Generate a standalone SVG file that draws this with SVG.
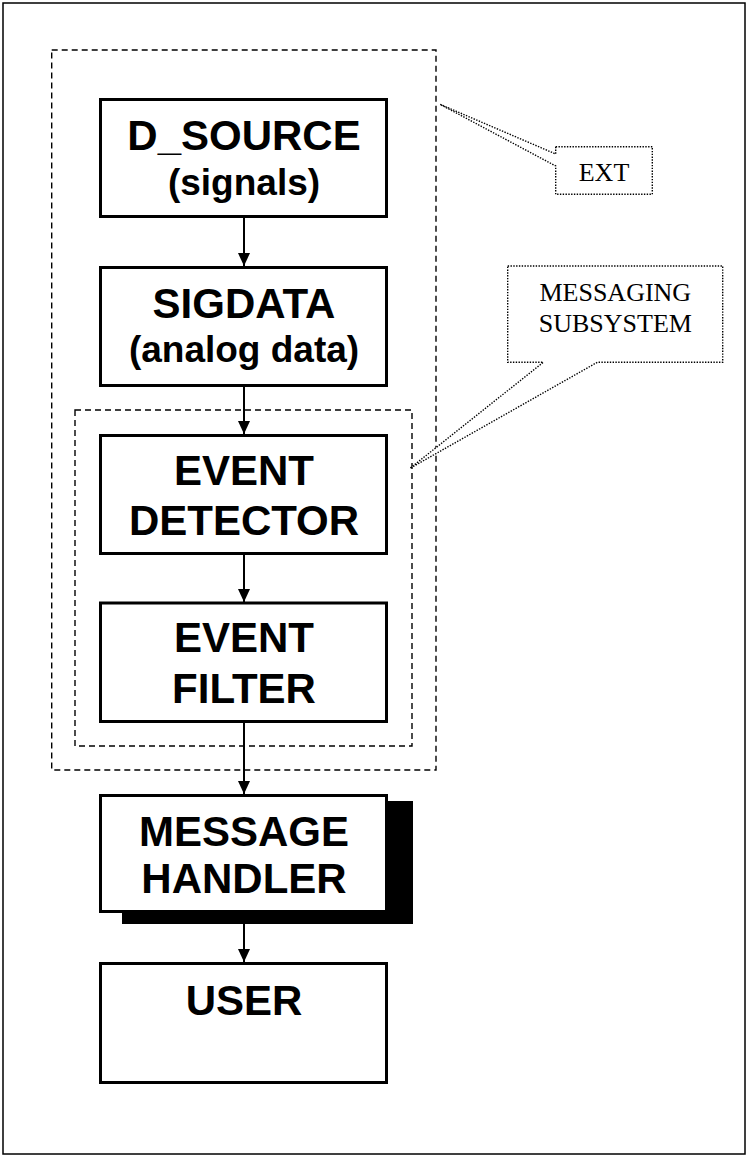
<svg xmlns="http://www.w3.org/2000/svg" width="748" height="1157" viewBox="0 0 748 1157">
  <style>
    .box { fill: #fff; stroke: #000; stroke-width: 3; }
    .title { font-family: "Liberation Sans", Arial, sans-serif; font-weight: bold; font-size: 42px; text-anchor: middle; fill: #000; }
    .sub { font-family: "Liberation Sans", Arial, sans-serif; font-weight: bold; font-size: 37px; text-anchor: middle; fill: #000; }
    .dash { fill: none; stroke: #000; stroke-width: 1.4; stroke-dasharray: 6 4; }
    .callout { fill: #fff; stroke: #000; stroke-width: 1.4; stroke-dasharray: 1.4 1.4; }
    .ctext { font-family: "Liberation Serif", "Times New Roman", serif; font-size: 26px; text-anchor: middle; fill: #000; }
    .conn { stroke: #000; stroke-width: 2; fill: none; }
  </style>
  <defs>
    <marker id="arrow" viewBox="0 0 13 12" refX="13" refY="6" markerWidth="13" markerHeight="12" markerUnits="userSpaceOnUse" orient="auto">
      <path d="M0,0 L13,6 L0,12 Z" fill="#000"/>
    </marker>
  </defs>
  <rect x="0" y="0" width="748" height="1157" fill="#fff"/>
  <rect x="3" y="3" width="742" height="1151" fill="none" stroke="#000" stroke-width="1.5"/>

  <g id="ext-group">
    <rect class="dash" x="51.7" y="50" width="384.3" height="720"/>
  </g>
  <g id="messaging-group">
    <rect class="dash" x="75" y="410" width="337" height="336"/>
  </g>

  <g id="callout-ext">
    <path class="callout" d="M555.7,146.7 H652.3 V194.3 H555.7 V166 L440,104.3 L555.7,154 Z"/>
    <text class="ctext" x="604" y="180.7">EXT</text>
  </g>
  <g id="callout-messaging">
    <path class="callout" d="M507.7,266 H722.7 V362.3 H597.3 L410,468.3 L543.3,362.3 H507.7 Z"/>
    <text class="ctext" x="615.3" y="301">MESSAGING</text>
    <text class="ctext" x="615.3" y="332.3">SUBSYSTEM</text>
  </g>

  <g id="connectors">
    <line class="conn" x1="244" y1="218" x2="244" y2="266" marker-end="url(#arrow)"/>
    <line class="conn" x1="244" y1="387" x2="244" y2="434" marker-end="url(#arrow)"/>
    <line class="conn" x1="244" y1="555" x2="244" y2="602" marker-end="url(#arrow)"/>
    <line class="conn" x1="244" y1="723" x2="244" y2="794" marker-end="url(#arrow)"/>
    <line class="conn" x1="244" y1="924" x2="244" y2="962" marker-end="url(#arrow)"/>
  </g>

  <g id="d-source">
    <rect class="box" x="100.5" y="99.5" width="286" height="117"/>
    <text class="title" x="244" y="150">D_SOURCE</text>
    <text class="sub" x="244" y="195">(signals)</text>
  </g>
  <g id="sigdata">
    <rect class="box" x="100.5" y="267.5" width="286" height="118"/>
    <text class="title" x="244" y="318.3">SIGDATA</text>
    <text class="sub" x="244" y="361.7">(analog data)</text>
  </g>
  <g id="event-detector">
    <rect class="box" x="100.5" y="435.5" width="286" height="118"/>
    <text class="title" x="244" y="485">EVENT</text>
    <text class="title" x="244" y="535">DETECTOR</text>
  </g>
  <g id="event-filter">
    <rect class="box" x="100.5" y="603" width="286" height="118.5"/>
    <text class="title" x="244" y="652.3">EVENT</text>
    <text class="title" x="244" y="702.7">FILTER</text>
  </g>
  <g id="message-handler">
    <rect x="122" y="801" width="291" height="123" fill="#000"/>
    <rect class="box" x="100.5" y="795.5" width="286" height="116"/>
    <text class="title" x="244" y="845.7">MESSAGE</text>
    <text class="title" x="244" y="893.3">HANDLER</text>
  </g>
  <g id="user">
    <rect class="box" x="100.5" y="963.5" width="286" height="119"/>
    <text class="title" x="244" y="1015">USER</text>
  </g>
</svg>
